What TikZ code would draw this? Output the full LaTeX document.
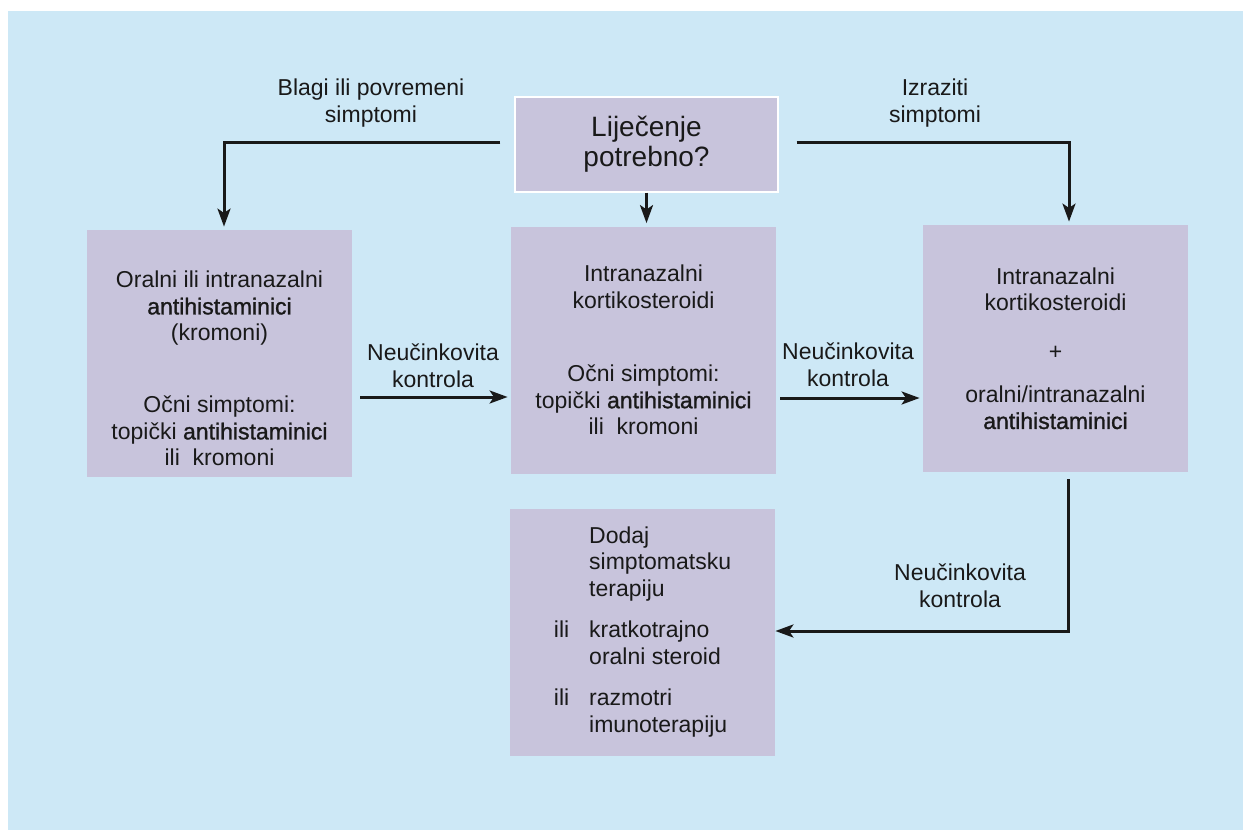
\documentclass[tikz,border=0pt]{standalone}
\usepackage{fontspec}
\setmainfont{Liberation Sans}
\newfontface\medium{Liberation Sans}[FakeBold=1.2]
\usetikzlibrary{arrows.meta}
\definecolor{skyblue}{RGB}{205,232,246}
\definecolor{lavender}{RGB}{200,196,220}
\definecolor{ink}{RGB}{25,25,25}
\tikzset{
    >={Stealth[length=9pt,width=6.5pt,inset=2.2pt]},
    box/.style={rectangle,fill=lavender,align=center,inner sep=0pt,text=ink,
      minimum width=132.5pt,minimum height=123.5pt,font=\fontsize{11.5pt}{13.25pt}\selectfont},
    lbl/.style={align=center,inner sep=0pt,text=ink,font=\fontsize{11.5pt}{13.5pt}\selectfont},
    arr/.style={->,line width=1.5pt,draw=ink,shorten >=1.5pt}
}
\newcommand{\ahist}{{\medium antihistaminici}}

\begin{document}
\begin{tikzpicture}[x=0.5pt,y=-0.5pt]
  \useasboundingbox (0,0) rectangle (1243,830);
  \fill[skyblue] (8,11) rectangle (1243,830);

  % boxes
  \node[box,minimum width=131.5pt,minimum height=47.5pt,draw=white,line width=0.6pt,
    font=\fontsize{14pt}{15pt}\selectfont] (need) at (646.5,144.5) {Liječenje\\potrebno?};
  \node[box] (oral) at (219.5,353.5)
    {\rule{0pt}{23.5pt}Oralni ili intranazalni\\\ahist\\(kromoni)\\[22.75pt]Očni simptomi:\\topički \ahist\\ili\ \ kromoni};
  \node[box] (ik) at (643.5,350)
    {Intranazalni\\kortikosteroidi\\[23.5pt]Očni simptomi:\\topički \ahist\\ili\ \ kromoni};
  \node[box] (kort) at (1055.5,348.5)
    {Intranazalni\\kortikosteroidi\\[11.25pt]+\\[8pt]oralni/intranazalni\\\ahist};
  \node[box] (extra) at (642.5,632.5)
    {\begin{tabular}{@{}l@{\hspace{10pt}}l@{}}
       & Dodaj\\
       & simptomatsku\\
       & terapiju\\[7.5pt]
     ili & kratkotrajno\\
       & oralni steroid\\[7.5pt]
     ili & razmotri\\
       & imunoterapiju
     \end{tabular}};

  % labels
  \node[lbl] (mild) at (371,103) {Blagi ili povremeni\\simptomi};
  \node[lbl] (severe) at (935,103) {Izraziti\\simptomi};
  \node[lbl] (fail1) at (433,366) {Neučinkovita\\kontrola};
  \node[lbl] (fail2) at (848,365) {Neučinkovita\\kontrola};
  \node[lbl] (fail3) at (960,586) {Neučinkovita\\kontrola};

  % arrows
  \draw[arr] ([xshift=-7pt,yshift=1.25pt]need.west) -| ([xshift=2.25pt]oral.north);
  \draw[arr] ([xshift=9pt,yshift=1.25pt]need.east) -| ([xshift=6.75pt]kort.north);
  \draw[arr] (need.south) -- (need.south |- ik.north);
  \draw[arr,shorten <=4pt] (oral.east |- 0,397) -- (ik.west |- 0,397);
  \draw[arr,shorten <=2pt] (ik.east |- 0,398) -- (kort.west |- 0,398);
  \draw[arr,shorten >=0pt] ([xshift=6.25pt,yshift=-3.5pt]kort.south) |- (extra.east |- 0,631);
\end{tikzpicture}
\end{document}
